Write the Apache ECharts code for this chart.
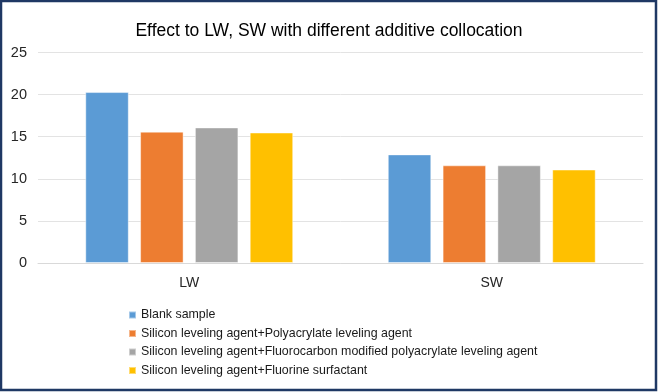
<!DOCTYPE html>
<html>
<head>
<meta charset="utf-8">
<script src="https://cdn.jsdelivr.net/npm/echarts@6/dist/echarts.min.js"></script>
<style>html,body{margin:0;padding:0;background:#fff}#c{width:658px;height:392px}</style>
</head>
<body>
<div id="c"></div>
<script>
const categories = ['LW', 'SW'];
const seriesNames = [
  'Blank sample',
  'Silicon leveling agent+Polyacrylate leveling agent',
  'Silicon leveling agent+Fluorocarbon modified polyacrylate leveling agent',
  'Silicon leveling agent+Fluorine surfactant'
];
const blankSample = [20.3, 12.9];
const siliconPolyacrylate = [15.6, 11.6];
const siliconFluorocarbon = [16.1, 11.6];
const siliconFluorine = [15.5, 11.1];
const colors = ['#5B9BD5', '#ED7D31', '#A5A5A5', '#FFC000'];
const values = [blankSample, siliconPolyacrylate, siliconFluorocarbon, siliconFluorine];

const chart = echarts.init(document.getElementById('c'));
const font = 'Liberation Sans, Arial, sans-serif';
chart.setOption({
  animation: false,
  textStyle: { fontFamily: font },
  title: {
    text: 'Effect to LW, SW with different additive collocation',
    left: 'center', top: 17,
    textStyle: { fontFamily: font, fontSize: 17.5, fontWeight: 'normal', color: '#000' }
  },
  graphic: [{
    type: 'rect', z: 100, silent: true,
    shape: { x: 1, y: 1, width: 655, height: 389 },
    style: { fill: 'none', stroke: '#1F3864', lineWidth: 2.5 }
  }],
  grid: { left: 38, right: 15, top: 52.5, bottom: 129, containLabel: false },
  legend: {
    orient: 'vertical', left: 123, top: 304,
    itemWidth: 7, itemHeight: 7, itemGap: 6.5,
    icon: 'rect',
    textStyle: { fontFamily: font, fontSize: 12.4, color: '#1a1a1a' },
    data: seriesNames
  },
  xAxis: {
    type: 'category', data: categories,
    axisLine: { show: true, lineStyle: { color: '#D9D9D9' } },
    axisTick: { show: false },
    axisLabel: { fontFamily: font, fontSize: 14, color: '#262626', margin: 13 }
  },
  yAxis: {
    type: 'value', min: 0, max: 25, interval: 5,
    axisLine: { show: false }, axisTick: { show: false },
    splitLine: { lineStyle: { color: '#E3E3E3', width: 1 } },
    axisLabel: { fontFamily: font, fontSize: 14.5, color: '#262626', margin: 11 }
  },
  series: seriesNames.map((n, i) => ({
    name: n, type: 'bar', data: values[i],
    barWidth: 43.5, barGap: '26%',
    itemStyle: { color: colors[i], borderColor: 'rgba(255,255,255,0.45)', borderWidth: 1 }
  }))
});
</script>
</body>
</html>
